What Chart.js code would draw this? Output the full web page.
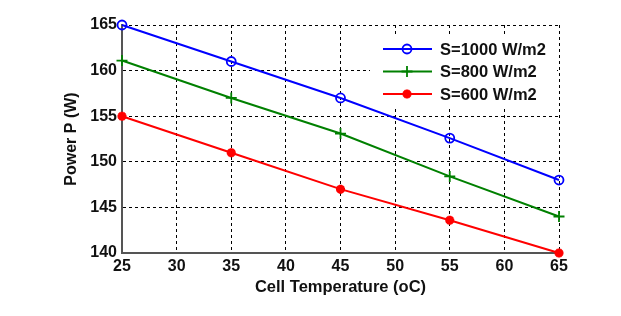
<!DOCTYPE html>
<html>
<head>
<meta charset="utf-8">
<script src="https://cdn.jsdelivr.net/npm/chart.js"></script>
<style>
  html, body { margin: 0; padding: 0; background: #fff; }
  #wrap { width: 621px; height: 316px; }
</style>
</head>
<body>
<div id="wrap"><canvas id="chartPower" width="621" height="316"></canvas></div>
<script>
// cell temperature (oC) and power (W)
const temps = [25, 35, 45, 55, 65];
const power1000 = [165, 161, 157, 152.6, 148];
const power800 = [161.1, 157, 153.1, 148.4, 144];
const power600 = [155, 151, 147, 143.6, 140];
const seriesLabels = ['S=1000 W/m2', 'S=800 W/m2', 'S=600 W/m2'];
const xTicks = [25, 30, 35, 40, 45, 50, 55, 60, 65];
const yTicks = [140, 145, 150, 155, 160, 165];

const FONT = 'Liberation Sans, Arial, sans-serif';

function toPoints(ys) {
  return temps.map((t, i) => ({ x: t, y: ys[i] }));
}

const styles = [
  { color: '#0000ff', pointStyle: 'circle', radius: 4.5 },
  { color: '#008000', pointStyle: 'cross', radius: 5.5 },
  { color: '#ff0000', pointStyle: 'star', radius: 4.5 }
];

const datasets = [power1000, power800, power600].map((ys, i) => ({
  label: seriesLabels[i],
  data: toPoints(ys),
  borderColor: styles[i].color,
  backgroundColor: 'transparent',
  pointBorderColor: styles[i].color,
  pointBackgroundColor: i === 2 ? styles[i].color : 'transparent',
  pointStyle: styles[i].pointStyle,
  pointRadius: styles[i].radius,
  pointBorderWidth: i === 2 ? 3 : 1.8,
  borderWidth: 2,
  tension: 0,
  clip: false
}));

// legend box like the matlab one (line + marker + text)
const legendBox = {
  id: 'legendBox',
  afterDraw(chart) {
    const ctx = chart.ctx;
    ctx.save();
    ctx.fillStyle = '#fff';
    ctx.fillRect(370, 34, 187, 72);
    chart.data.datasets.forEach((ds, i) => {
      const y = 49 + i * 22.5;
      ctx.strokeStyle = ds.borderColor;
      ctx.lineWidth = 2;
      ctx.setLineDash([]);
      ctx.beginPath();
      ctx.moveTo(383, y);
      ctx.lineTo(432, y);
      ctx.stroke();
      ctx.fillStyle = ds.pointBackgroundColor;
      ctx.lineWidth = ds.pointBorderWidth;
      Chart.helpers.drawPoint(ctx, {
        pointStyle: ds.pointStyle,
        radius: ds.pointRadius,
        rotation: 0,
        borderWidth: ds.pointBorderWidth
      }, 407, y);
      ctx.fillStyle = '#111';
      ctx.font = 'bold 16.5px ' + FONT;
      ctx.textBaseline = 'middle';
      ctx.textAlign = 'left';
      ctx.fillText(ds.label, 440, y + 1);
    });
    ctx.restore();
  }
};

new Chart(document.getElementById('chartPower'), {
  type: 'line',
  data: { datasets: datasets },
  plugins: [legendBox],
  options: {
    responsive: false,
    animation: false,
    layout: { padding: { top: 25, right: 62, left: 0, bottom: 0 } },
    plugins: {
      legend: { display: false },
      tooltip: { enabled: false }
    },
    scales: {
      x: {
        type: 'linear',
        min: 25,
        max: 65,
        afterBuildTicks: (axis) => { axis.ticks = xTicks.map(v => ({ value: v })); },
        afterFit: (axis) => { axis.height = 63; },
        ticks: {
          color: '#111',
          padding: 4,
          font: { family: FONT, size: 16, weight: 'bold' },
          maxRotation: 0
        },
        grid: { color: '#000', lineWidth: 1, drawTicks: false },
        border: { display: true, color: '#555', width: 2, dash: [3, 3] },
        title: {
          display: true,
          text: 'Cell Temperature (oC)',
          color: '#111',
          font: { family: FONT, size: 16.5, weight: 'bold' },
          padding: { top: 0, bottom: 19 }
        }
      },
      y: {
        min: 140,
        max: 165,
        afterBuildTicks: (axis) => { axis.ticks = yTicks.map(v => ({ value: v })); },
        afterFit: (axis) => { axis.width = 122; },
        ticks: {
          color: '#111',
          padding: 5,
          font: { family: FONT, size: 16, weight: 'bold' }
        },
        grid: { color: '#000', lineWidth: 1, drawTicks: false },
        border: { display: true, color: '#555', width: 2, dash: [3, 3] },
        title: {
          display: true,
          text: 'Power P (W)',
          color: '#111',
          font: { family: FONT, size: 16, weight: 'bold' },
          padding: { top: 62, bottom: 0 }
        }
      }
    }
  }
});
</script>
</body>
</html>
